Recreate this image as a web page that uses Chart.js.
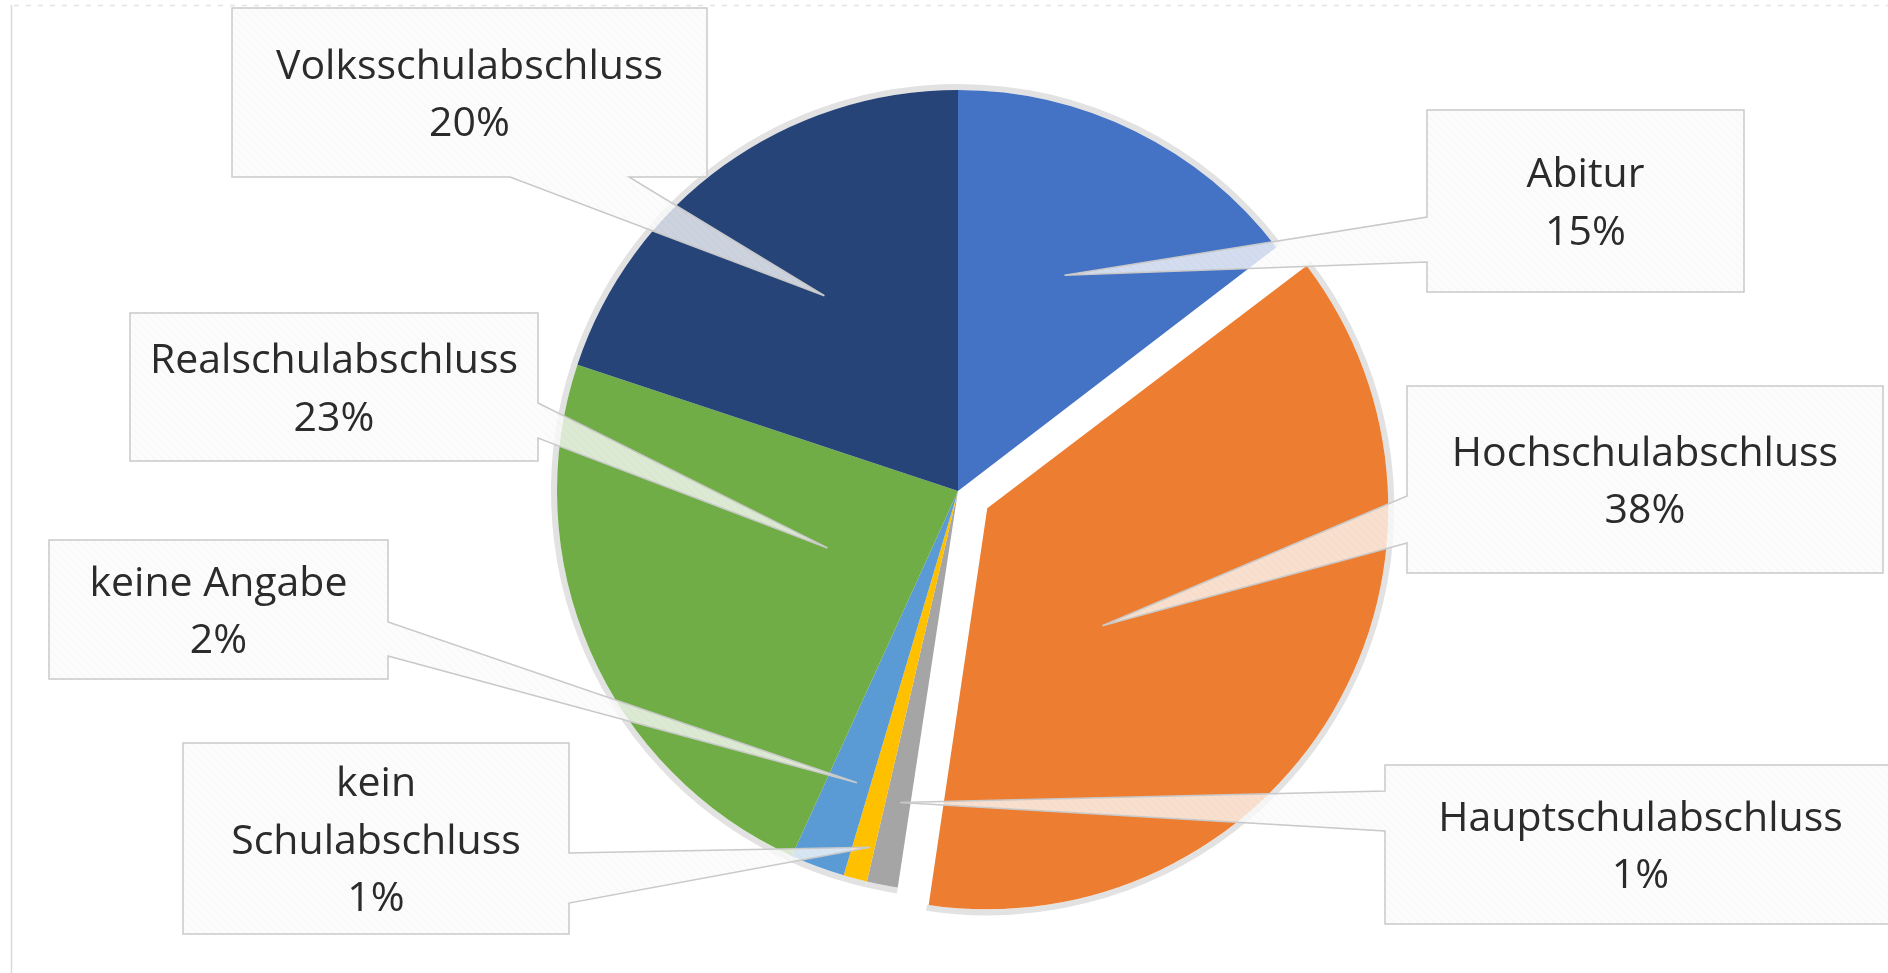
<!DOCTYPE html>
<html lang="de">
<head>
<meta charset="utf-8">
<title>Schulabschluss</title>
<script src="https://cdn.jsdelivr.net/npm/chart.js@4.4.1/dist/chart.umd.min.js"></script>
<style>
  html, body { margin: 0; padding: 0; background: #fff; }
  #wrap { position: relative; width: 1888px; height: 973px; }
</style>
</head>
<body>
<div id="wrap"><canvas id="pieChart"></canvas></div>
<script>
// values, clockwise from 12 o'clock
const categories = ['Abitur', 'Hochschulabschluss', 'Hauptschulabschluss', 'kein Schulabschluss', 'keine Angabe', 'Realschulabschluss', 'Volksschulabschluss'];
const shares = [14.6, 37.8, 1.25, 0.95, 2.2, 23.3, 19.9];
const sliceColors = ['#4472C4', '#ED7D31', '#A5A5A5', '#FFC000', '#5B9BD5', '#70AD47', '#264478'];
// label text, broken where the original breaks it
const labelLines = [['Abitur'], ['Hochschulabschluss'], ['Hauptschulabschluss'], ['kein', 'Schulabschluss'], ['keine Angabe'], ['Realschulabschluss'], ['Volksschulabschluss']];

// callout layout: box [left, top, right, bottom] and where the pointer leaves the box
const boxes = [
  [1427, 110, 1744, 292],
  [1407, 386, 1883, 573],
  [1385, 765, 1896, 924],
  [183, 743, 569, 934],
  [49, 540, 388, 679],
  [130, 313, 538, 461],
  [232, 8, 707, 177]
];
const pointerBase = [
  ['left', 217, 262],
  ['left', 496, 543],
  ['left', 791, 831],
  ['right', 853, 903],
  ['right', 622, 656],
  ['right', 403, 438],
  ['bottom', 510, 629]
];
// pointer tip: share of the slice angle, share of the radius
const tipAngleFrac = [0.5, 0.61, 0.42, 0.2, 0.32, 0.5, 0.52];
const tipRadiusFrac = [0.6, 0.41, 0.79, 0.915, 0.77, 0.355, 0.59];
const explode = [0, 136, 0, 0, 0, 0, 0]; // chart.js moves a slice by offset/4

const PIE_R = 401;
const LINE_H = 57.5;

function pctLabel(i) {
  const total = shares.reduce((a, b) => a + b, 0);
  return Math.round(shares[i] / total * 100) + '%';
}

function stripePattern(ctx) {
  const c = document.createElement('canvas');
  c.width = 8; c.height = 8;
  const g = c.getContext('2d');
  g.fillStyle = '#FCFCFC';
  g.fillRect(0, 0, 8, 8);
  g.strokeStyle = '#F6F6F6';
  g.lineWidth = 1.5;
  g.beginPath();
  g.moveTo(0, 0); g.lineTo(8, 8);
  g.moveTo(-4, 4); g.lineTo(4, 12);
  g.moveTo(4, -4); g.lineTo(12, 4);
  g.stroke();
  return ctx.createPattern(c, 'repeat');
}

// centre of a slice incl. its explode shift
function arcCenter(arc, i) {
  const mid = (arc.startAngle + arc.endAngle) / 2;
  const o = explode[i] / 4;
  return { x: arc.x + Math.cos(mid) * o, y: arc.y + Math.sin(mid) * o };
}

function calloutPath(ctx, b, base, tip) {
  const [l, t, r, btm] = b;
  const [side, p1, p2] = base;
  ctx.beginPath();
  ctx.moveTo(l, t);
  ctx.lineTo(r, t);
  if (side === 'right') { ctx.lineTo(r, p1); ctx.lineTo(tip.x, tip.y); ctx.lineTo(r, p2); }
  ctx.lineTo(r, btm);
  if (side === 'bottom') { ctx.lineTo(p2, btm); ctx.lineTo(tip.x, tip.y); ctx.lineTo(p1, btm); }
  ctx.lineTo(l, btm);
  if (side === 'left') { ctx.lineTo(l, p2); ctx.lineTo(tip.x, tip.y); ctx.lineTo(l, p1); }
  ctx.closePath();
}

// keep the exploded slice at the same radius as the others
const keepRadius = {
  id: 'keepRadius',
  afterDatasetUpdate(chart, args) {
    args.meta.data.forEach((arc, i) => {
      const off = explode[i] / 4;
      if (!off) return;
      const fix = 1 - Math.sin(Math.min(Math.PI, arc.circumference));
      arc.outerRadius -= off * fix;
    });
  }
};

// thin page frame + grey halo round the pie
const backdrop = {
  id: 'backdrop',
  beforeDatasetsDraw(chart) {
    const ctx = chart.ctx;
    ctx.save();
    ctx.strokeStyle = '#D9D9D9';
    ctx.lineWidth = 1.5;
    ctx.beginPath();
    ctx.moveTo(11.5, 5); ctx.lineTo(11.5, 973);
    ctx.stroke();
    ctx.setLineDash([5, 7]);
    ctx.strokeStyle = '#E3E3E3';
    ctx.beginPath();
    ctx.moveTo(14, 5.5); ctx.lineTo(1888, 5.5);
    ctx.stroke();
    ctx.setLineDash([]);

    ctx.strokeStyle = '#E2E2E2';
    ctx.lineWidth = 6;
    chart.getDatasetMeta(0).data.forEach((arc, i) => {
      const c = arcCenter(arc, i);
      ctx.beginPath();
      ctx.arc(c.x, c.y, PIE_R + 3, arc.startAngle, arc.endAngle);
      ctx.stroke();
    });
    ctx.restore();
  }
};

let boxFill = null;
const callouts = {
  id: 'callouts',
  afterDatasetsDraw(chart) {
    const ctx = chart.ctx;
    if (!boxFill) boxFill = stripePattern(ctx);
    ctx.save();
    chart.getDatasetMeta(0).data.forEach((arc, i) => {
      const c = arcCenter(arc, i);
      const a = arc.startAngle + (arc.endAngle - arc.startAngle) * tipAngleFrac[i];
      const tip = {
        x: c.x + Math.cos(a) * PIE_R * tipRadiusFrac[i],
        y: c.y + Math.sin(a) * PIE_R * tipRadiusFrac[i]
      };
      calloutPath(ctx, boxes[i], pointerBase[i], tip);
      ctx.globalAlpha = 0.78;
      ctx.fillStyle = boxFill;
      ctx.fill();
      ctx.globalAlpha = 1;
      ctx.strokeStyle = '#C9C9C9';
      ctx.lineWidth = 1.5;
      ctx.stroke();

      const [l, t, r, b] = boxes[i];
      const lines = labelLines[i].concat([pctLabel(i)]);
      const cx = (l + r) / 2, cy = (t + b) / 2;
      ctx.fillStyle = '#2B2B2B';
      ctx.font = '41px "Open Sans"';
      ctx.textAlign = 'center';
      ctx.textBaseline = 'alphabetic';
      lines.forEach((txt, k) => {
        ctx.fillText(txt, cx, cy + (k - (lines.length - 1) / 2) * LINE_H + 15);
      });
    });
    ctx.restore();
  }
};

new Chart(document.getElementById('pieChart'), {
  type: 'pie',
  data: {
    labels: categories,
    datasets: [{
      data: shares,
      backgroundColor: sliceColors,
      borderWidth: 0,
      offset: explode
    }]
  },
  options: {
    responsive: true,
    maintainAspectRatio: false,
    animation: false,
    radius: PIE_R,
    layout: { padding: { left: 28, top: 9, right: 0, bottom: 0 } },
    plugins: {
      legend: { display: false },
      tooltip: { enabled: false }
    }
  },
  plugins: [keepRadius, backdrop, callouts]
});
</script>
</body>
</html>
